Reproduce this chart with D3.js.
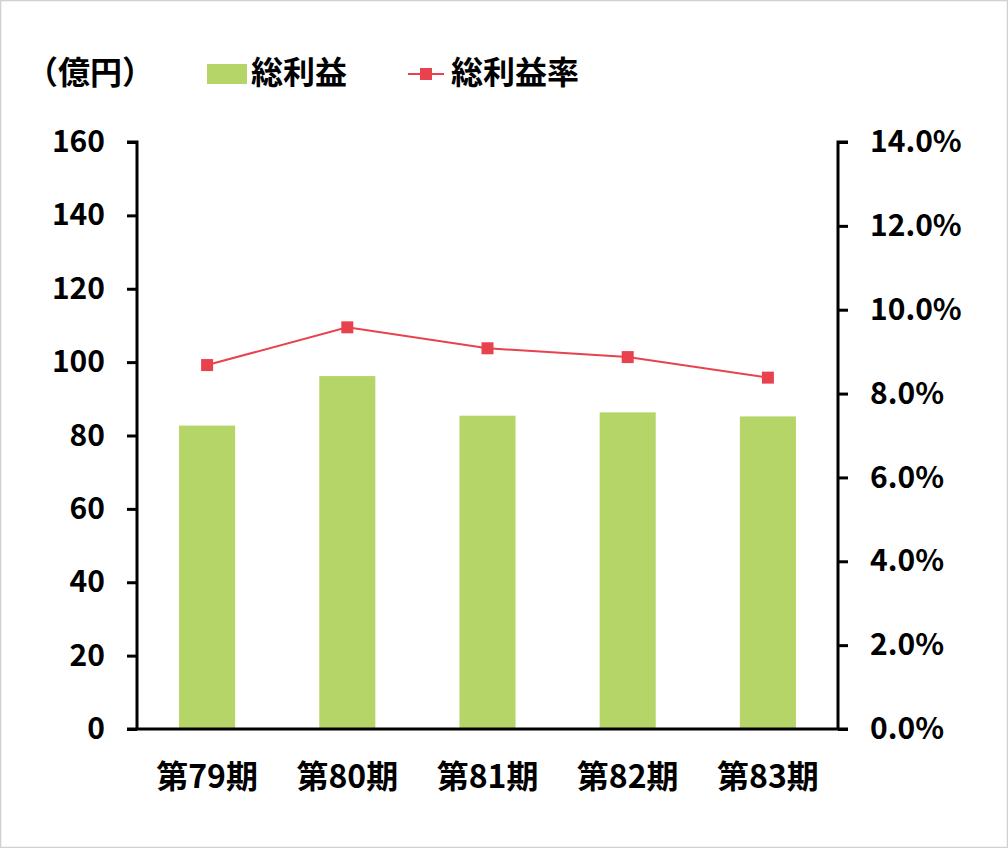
<!DOCTYPE html>
<html><head><meta charset="utf-8">
<script src="https://cdn.jsdelivr.net/npm/d3@7"></script>
<style>
html,body{margin:0;padding:0;background:#fff;}
svg{display:block;}
text{font-family:"Noto Sans CJK JP","Noto Sans",sans-serif;font-weight:700;fill:#000;}
</style></head>
<body>
<svg id="c" width="1008" height="848"></svg>
<script>
const categories = ["第79期","第80期","第81期","第82期","第83期"];
const grossProfit = [82.7, 96.2, 85.4, 86.3, 85.2];
const grossMargin = [8.68, 9.58, 9.08, 8.87, 8.38];
const leftTicks = [0,20,40,60,80,100,120,140,160];
const rightTicks = [0,2,4,6,8,10,12,14];
const unitLabel = "（億円）";
const seriesNames = ["総利益","総利益率"];

(function(){
const svg = d3.select("#c");
const W = 1008, H = 848;
svg.append("rect").attr("x",0.5).attr("y",0.5).attr("width",W-1).attr("height",H-1)
  .attr("fill","#fff").attr("stroke","#d0d0d0").attr("stroke-width",1.5);

const pl = 137, pr = 838, pt = 142, pb = 729;
const x = d3.scaleBand().domain(categories).range([pl,pr]).paddingInner(0.6).paddingOuter(0.3);
const y = d3.scaleLinear().domain([0,160]).range([pb,pt]);
const y2 = d3.scaleLinear().domain([0,14]).range([pb,pt]);

const green = "#b5d568", red = "#e8424f";

svg.append("g").selectAll("rect").data(grossProfit).join("rect")
  .attr("x",(d,i)=>x(categories[i])).attr("width",x.bandwidth())
  .attr("y",d=>y(d)).attr("height",d=>pb-y(d)).attr("fill",green);

const fsNum = 30, fsCjk = 32;
const gL = svg.append("g").attr("transform",`translate(${pl},0)`)
  .call(d3.axisLeft(y).tickValues(leftTicks).tickSize(10).tickPadding(22).tickFormat(d3.format("d")));
const gR = svg.append("g").attr("transform",`translate(${pr},0)`)
  .call(d3.axisRight(y2).tickValues(rightTicks).tickSize(10).tickPadding(22).tickFormat(d=>d.toFixed(1)+"%"));
const gB = svg.append("g").attr("transform",`translate(0,${pb})`)
  .call(d3.axisBottom(x).tickSize(0).tickPadding(36));
[gL,gR,gB].forEach(g=>{
  g.selectAll(".domain").attr("stroke","#000").attr("stroke-width",3);
  g.selectAll(".tick line").attr("stroke","#000").attr("stroke-width",3);
  g.selectAll("text").attr("font-size",fsNum).attr("font-family",'"Noto Sans CJK JP",sans-serif').attr("font-weight",700).attr("fill","#000");
});
gB.selectAll("text").attr("font-size",fsCjk);
gB.select(".domain").attr("d",`M${pl-10},0H${pr+10}`);
gL.select(".domain").attr("d",`M0,${pb}V${pt}H-10`);
gR.select(".domain").attr("d",`M0,${pb}V${pt}H10`);

const line = d3.line().x((d,i)=>x(categories[i])+x.bandwidth()/2).y(d=>y2(d));
svg.append("path").datum(grossMargin).attr("d",line).attr("fill","none").attr("stroke",red).attr("stroke-width",2);
svg.append("g").selectAll("rect").data(grossMargin).join("rect")
  .attr("x",(d,i)=>x(categories[i])+x.bandwidth()/2-6).attr("y",d=>y2(d)-6)
  .attr("width",12).attr("height",12).attr("fill",red);

const ly = 73;
svg.append("text").attr("x",26).attr("y",ly).attr("dy","0.35em").attr("font-size",fsCjk).text(unitLabel);
svg.append("rect").attr("x",207).attr("y",64).attr("width",40).attr("height",20).attr("fill",green);
svg.append("text").attr("x",251).attr("y",ly).attr("dy","0.35em").attr("font-size",fsCjk).text(seriesNames[0]);
svg.append("line").attr("x1",408).attr("x2",444).attr("y1",ly+1).attr("y2",ly+1).attr("stroke",red).attr("stroke-width",2);
svg.append("rect").attr("x",420).attr("y",ly-5).attr("width",12).attr("height",12).attr("fill",red);
svg.append("text").attr("x",451).attr("y",ly).attr("dy","0.35em").attr("font-size",fsCjk).text(seriesNames[1]);
})();
</script>
</body></html>
